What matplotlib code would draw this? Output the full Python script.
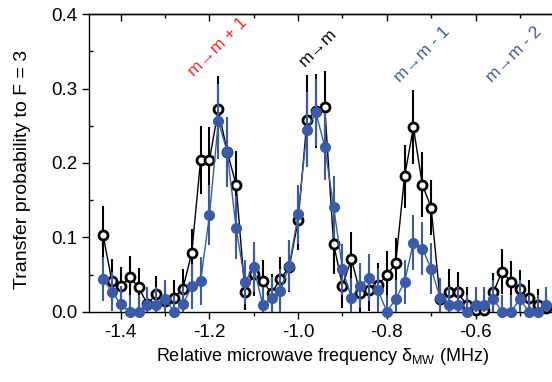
import matplotlib
matplotlib.use('Agg')
import matplotlib.pyplot as plt
from matplotlib.ticker import MultipleLocator, FormatStrFormatter

plt.rcParams['font.family'] = ['Liberation Sans', 'DejaVu Sans']
plt.rcParams['mathtext.fontset'] = 'custom'
plt.rcParams['mathtext.rm'] = 'Liberation Sans'

# detuning grid (MHz)
freq = [-1.44, -1.42, -1.40, -1.38, -1.36, -1.34, -1.32, -1.30, -1.28, -1.26,
        -1.24, -1.22, -1.20, -1.18, -1.16, -1.14, -1.12, -1.10, -1.08, -1.06,
        -1.04, -1.02, -1.00, -0.98, -0.96, -0.94, -0.92, -0.90, -0.88, -0.86,
        -0.84, -0.82, -0.80, -0.78, -0.76, -0.74, -0.72, -0.70, -0.68, -0.66,
        -0.64, -0.62, -0.60, -0.58, -0.56, -0.54, -0.52, -0.50, -0.48, -0.46,
        -0.44]

# open black circles
p_black = [0.103, 0.041, 0.034, 0.047, 0.033, 0.010, 0.024, 0.015, 0.019, 0.031,
           0.079, 0.204, 0.204, 0.272, 0.215, 0.171, 0.026, 0.051, 0.041, 0.025,
           0.044, 0.060, 0.123, 0.258, 0.270, 0.275, 0.091, 0.035, 0.071, 0.025,
           0.029, 0.036, 0.049, 0.065, 0.182, 0.248, 0.171, 0.140, 0.017, 0.027,
           0.026, 0.009, 0.002, 0.002, 0.026, 0.054, 0.040, 0.030, 0.018, 0.009,
           0.005]
err_black = [0.039, 0.030, 0.026, 0.028, 0.026, 0.022, 0.024, 0.022, 0.024, 0.026,
             0.032, 0.046, 0.044, 0.045, 0.045, 0.045, 0.024, 0.030, 0.028, 0.026,
             0.030, 0.034, 0.040, 0.060, 0.050, 0.049, 0.040, 0.030, 0.036, 0.026,
             0.028, 0.030, 0.032, 0.034, 0.042, 0.050, 0.044, 0.037, 0.026, 0.030,
             0.028, 0.024, 0.022, 0.022, 0.026, 0.030, 0.028, 0.026, 0.024, 0.022,
             0.022]

# filled blue circles
p_blue = [0.044, 0.027, 0.010, 0.000, 0.000, 0.009, 0.009, 0.017, 0.000, 0.010,
          0.034, 0.041, 0.130, 0.256, 0.215, 0.113, 0.040, 0.060, 0.009, 0.019,
          0.028, 0.062, 0.131, 0.245, 0.268, 0.222, 0.141, 0.057, 0.019, 0.035,
          0.046, 0.029, 0.000, 0.017, 0.040, 0.093, 0.085, 0.058, 0.019, 0.009,
          0.009, 0.000, 0.009, 0.009, 0.017, 0.000, 0.000, 0.017, 0.000, 0.000,
          0.009]
err_blue = [0.030, 0.026, 0.024, 0.022, 0.022, 0.024, 0.024, 0.026, 0.022, 0.024,
            0.030, 0.032, 0.040, 0.050, 0.047, 0.042, 0.030, 0.034, 0.024, 0.028,
            0.030, 0.034, 0.040, 0.050, 0.045, 0.045, 0.042, 0.034, 0.026, 0.030,
            0.032, 0.030, 0.022, 0.026, 0.030, 0.037, 0.036, 0.034, 0.026, 0.024,
            0.024, 0.022, 0.024, 0.024, 0.026, 0.022, 0.022, 0.026, 0.022, 0.022,
            0.024]

# transition labels
labels = ['m\u2192m + 1', 'm\u2192m', 'm\u2192m - 1', 'm\u2192m - 2']
label_x = [-1.235, -0.986, -0.771, -0.562]
label_y = [0.316, 0.329, 0.308, 0.308]
label_col = ['#ff1f1f', 'black', '#3a5ba8', '#3a5ba8']

blue = '#3a5ba8'

fig = plt.figure(figsize=(5.52, 3.82), dpi=100)
ax = fig.add_axes([0.161, 0.184, 0.845, 0.7786])

ax.errorbar(freq, p_black, yerr=err_black, fmt='none', ecolor='black',
            elinewidth=1.5, capsize=0, zorder=2)
ax.plot(freq, p_black, '-o', color='black', lw=1.0, ms=6.5, mew=2.0,
        mfc='white', mec='black', clip_on=False, zorder=3)
ax.errorbar(freq, p_blue, yerr=err_blue, fmt='none', ecolor=blue,
            elinewidth=1.5, capsize=0, zorder=4)
ax.plot(freq, p_blue, '-o', color=blue, lw=1.0, ms=7, mfc=blue, mec=blue,
        clip_on=False, zorder=5)

for t, x, y, c in zip(labels, label_x, label_y, label_col):
    ax.text(x, y, t, color=c, fontsize=12.5, rotation=45, rotation_mode='anchor',
            ha='left', va='baseline')

ax.set_xlim(-1.472, -0.42)
ax.set_ylim(0, 0.4)
ax.xaxis.set_major_locator(MultipleLocator(0.2))
ax.xaxis.set_minor_locator(MultipleLocator(0.1))
ax.yaxis.set_major_locator(MultipleLocator(0.1))
ax.yaxis.set_minor_locator(MultipleLocator(0.05))
ax.xaxis.set_major_formatter(FormatStrFormatter('%.1f'))
ax.yaxis.set_major_formatter(FormatStrFormatter('%.1f'))
ax.tick_params(axis='both', which='major', direction='out', length=5, width=1,
               labelsize=13.5)
ax.tick_params(axis='x', which='minor', direction='out', length=3, width=1)
ax.tick_params(axis='y', which='minor', direction='in', length=3, width=1)
ax.spines['right'].set_visible(False)
for s in ax.spines.values():
    s.set_linewidth(1.0)

# top axis: inward ticks, no labels
top = ax.secondary_xaxis('top')
top.xaxis.set_major_locator(MultipleLocator(0.2))
top.xaxis.set_minor_locator(MultipleLocator(0.1))
top.tick_params(which='major', direction='in', length=5, width=1, labeltop=False)
top.tick_params(which='minor', direction='in', length=3, width=1)
top.spines['top'].set_linewidth(1.0)

ax.set_xlabel('Relative microwave frequency \u03b4$_\\mathregular{MW}$ (MHz)', fontsize=13)
ax.set_ylabel('Transfer probability to F = 3', fontsize=14)
ax.yaxis.set_label_coords(-0.123, 0.48)

fig.savefig('out.png', dpi=100)
